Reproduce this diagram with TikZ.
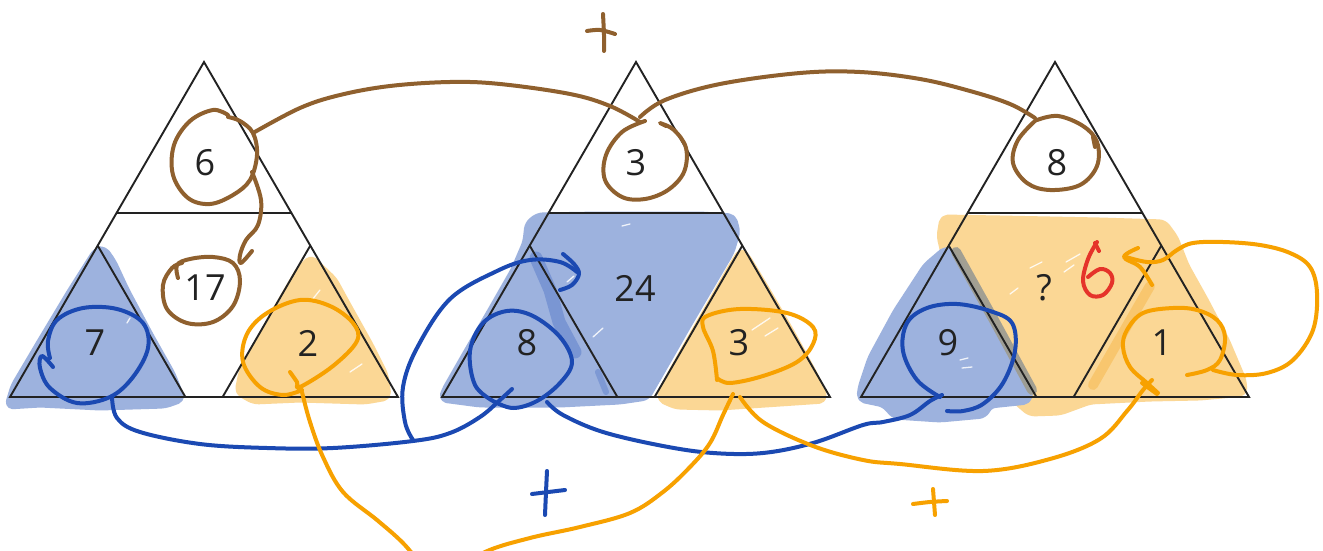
\documentclass[tikz,border=0pt]{standalone}
\usepackage{fontspec}
\setmainfont{Open Sans}
\definecolor{fblue}{HTML}{9DB2DE}
\definecolor{fdblue}{HTML}{7793D2}
\definecolor{forange}{HTML}{FBD795}
\definecolor{fdorange}{HTML}{F8C66E}
\definecolor{fgray}{HTML}{9E9C92}
\definecolor{pbrown}{HTML}{8F602E}
\definecolor{pblue}{HTML}{1B49B2}
\definecolor{porange}{HTML}{F7A100}
\definecolor{pred}{HTML}{E5332A}
\definecolor{ink}{HTML}{222222}
\begin{document}
\begin{tikzpicture}[x=1pt,y=-1pt,
  tri/.style={draw=ink,line width=1.9pt,line join=miter},
  num/.style={font=\fontsize{36}{40}\selectfont,text=ink,inner sep=0pt},
  blob/.style={fill=#1,draw=#1,line width=7pt,line join=round,rounded corners=5pt},
  pen/.style={draw=#1,line width=4pt,line cap=round,line join=round},
  scratch/.style={draw=white,line width=1.3pt,line cap=round,opacity=0.85}]
\useasboundingbox (0,0) rectangle (1323,551);
\clip (0,0) rectangle (1323,551);
\fill[white] (0,0) rectangle (1323,551);

% ---------- colour fills ----------
% triangle 1
\path[blob=fblue] (8,406) -- (40,404) -- (100,407) -- (165,405) -- (182,399) -- (172,374) -- (150,335) -- (126,290) -- (113,262) -- (104,249) -- (96,251) -- (70,292) -- (40,342) -- (14,386) -- cycle;
\path[blob=forange] (238,392) -- (254,401) -- (300,399) -- (365,401) -- (388,397) -- (385,375) -- (370,345) -- (346,302) -- (334,280) -- (311,258) -- (299,270) -- (270,320) -- (242,372) -- cycle;
% triangle 2
\path[blob=fblue] (442,399) -- (480,404) -- (560,404) -- (620,401) -- (647,397) -- (690,322) -- (731,252) -- (737,232) -- (733,217) -- (700,215) -- (600,215) -- (538,216) -- (528,224) -- (526,242) -- (514,270) -- (490,312) -- (465,355) -- (445,390) -- cycle;
\draw[fdblue,line width=13pt,line cap=round,line join=round,opacity=0.9] (536,258) -- (550,290) -- (559,322) -- (575,352);
\draw[fdblue,line width=6pt,line cap=round,opacity=0.8] (598,372) -- (606,392);
\path[blob=forange] (660,399) -- (676,406) -- (720,407) -- (780,403) -- (824,400) -- (822,390) -- (812,370) -- (790,330) -- (765,287) -- (747,257) -- (741,251) -- (733,264) -- (705,313) -- (680,357) -- (662,390) -- cycle;
% triangle 3
\path[blob=forange] (943,218) -- (1000,219) -- (1100,221) -- (1164,223) -- (1175,238) -- (1186,266) -- (1205,300) -- (1226,340) -- (1243,380) -- (1244,393) -- (1200,397) -- (1150,398) -- (1090,401) -- (1060,412) -- (1030,413) -- (1016,401) -- (1000,370) -- (960,300) -- (946,262) -- (940,236) -- cycle;
\draw[fdorange,line width=10pt,line cap=round] (1150,286) -- (1120,338) -- (1093,385);
\path[blob=fblue] (860,399) -- (884,404) -- (895,416) -- (940,419) -- (984,415) -- (990,405) -- (1028,401) -- (1030,392) -- (992,325) -- (953,254) -- (946,249) -- (926,266) -- (896,312) -- (871,358) -- (861,388) -- cycle;
\draw[fgray,line width=10pt,line cap=round,opacity=0.95] (956,252) -- (995,322) -- (1032,390);

% scratches in fills
\draw[scratch] (593,337) -- (603,328);
\draw[scratch] (622,226) -- (630,224);
\draw[scratch] (567,282) -- (574,276);
\draw[scratch] (752,330) -- (770,318);
\draw[scratch] (765,336) -- (778,328);
\draw[scratch] (1066,262) -- (1080,254);
\draw[scratch] (1030,268) -- (1042,262);
\draw[scratch] (1064,272) -- (1074,265);
\draw[scratch] (960,360) -- (968,358);
\draw[scratch] (962,368) -- (972,367);
\draw[scratch] (312,300) -- (320,290);
\draw[scratch] (350,372) -- (362,364);
\draw[scratch] (127,323) -- (130,318);
\draw[scratch] (1010,294) -- (1018,288);

% ---------- triangles ----------
\foreach \c in {204,636,1055}{
  \draw[tri] (\c,62) -- ({\c+194},397) -- ({\c-194},397) -- cycle;
  \draw[tri] ({\c-87.4},213) -- ({\c+87.4},213);
  \draw[tri] ({\c-106.3},245.6) -- ({\c-18.6},397);
  \draw[tri] ({\c+106.3},245.6) -- ({\c+18.6},397);
}

% ---------- numbers ----------
\node[num] (a1) at (205,163) {6};
\node[num] (a2) at (205,288) {17};
\node[num] (a3) at (95,343) {7};
\node[num] (a4) at (308,343) {2};
\node[num] (b1) at (636,163) {3};
\node[num] (b2) at (635,288) {24};
\node[num] (b3) at (527,343) {8};
\node[num] (b4) at (739,343) {3};
\node[num] (c1) at (1057,163) {8};
\node[num] (c2) at (1044,288) {?};
\node[num] (c3) at (948,343) {9};
\node[num] (c4) at (1162,343) {1};

% ---------- brown pen ----------
\draw[pen=pbrown] plot[smooth,tension=0.6] coordinates {(228,115) (213,110) (190,121) (174,145) (173,175) (188,198) (210,204) (233,195) (250,180) (257,155) (253,133) (240,121) (228,117)};
\draw[pen=pbrown] plot[smooth,tension=0.6] coordinates {(252,172) (261,200) (258,225) (246,240) (240,255) (241,263) (252,251)};
\draw[pen=pbrown] plot[smooth,tension=0.6] coordinates {(178,278) (177,265) (190,259) (213,257) (233,263) (240,281) (233,306) (213,322) (187,323) (167,309) (163,285) (172,268) (182,263)};
\draw[pen=pbrown] plot[smooth,tension=0.6] coordinates {(253,133) (300,108) (340,95) (390,86) (450,82) (500,84) (570,94) (610,106) (640,122)};
\draw[pen=pbrown] plot[smooth,tension=0.6] coordinates {(645,121) (622,132) (606,155) (605,180) (622,197) (645,199) (668,190) (684,172) (686,148) (674,130) (660,123) (666,126)};
\draw[pen=pbrown] plot[smooth,tension=0.6] coordinates {(640,117) (665,100) (720,84) (800,73) (860,72) (920,79) (970,91) (1010,104) (1035,118)};
\draw[pen=pbrown] plot[smooth,tension=0.6] coordinates {(1036,120) (1018,140) (1013,163) (1027,183) (1050,190) (1080,185) (1097,166) (1097,142) (1083,126) (1058,116) (1037,120)};
\draw[pen=pbrown] (1093,137) -- (1095,147);
\draw[pen=pbrown] plot[smooth,tension=0.6] coordinates {(587,31) (600,30) (615,34)};
\draw[pen=pbrown] plot[smooth,tension=0.6] coordinates {(603,14) (604,35) (604,51)};

% ---------- blue pen ----------
\draw[pen=pblue] plot[smooth,tension=0.6] coordinates {(53,367) (42,356) (40,368) (50,388) (77,403) (110,397) (133,377) (148,348) (143,323) (117,309) (83,308) (57,320) (48,341) (50,358)};
\draw[pen=pblue] plot[smooth,tension=0.6] coordinates {(112,397) (117,418) (140,432) (200,444) (267,448) (333,448) (413,441) (450,433) (480,417) (500,400) (512,389)};
\draw[pen=pblue] plot[smooth,tension=0.6] coordinates {(413,440) (405,422) (403,387) (417,348) (450,299) (497,271) (530,260) (560,262) (577,272)};
\draw[pen=pblue] plot[smooth,tension=0.6] coordinates {(563,254) (574,264) (579,274) (572,285) (560,290)};
\draw[pen=pblue] plot[smooth,tension=0.6] coordinates {(493,401) (475,385) (470,351) (483,323) (507,311) (533,316) (560,337) (572,362) (560,383) (537,401) (513,408) (493,401)};
\draw[pen=pblue] plot[smooth,tension=0.6] coordinates {(547,402) (563,415) (603,432) (663,446) (713,453) (763,453) (813,443) (863,425) (883,422) (910,415) (930,401) (942,395)};
\draw[pen=pblue] plot[smooth,tension=0.6] coordinates {(940,397) (917,380) (903,351) (907,323) (927,308) (957,304) (990,311) (1012,323) (1015,351) (1003,383) (983,404) (963,411) (947,411)};
\draw[pen=pblue] plot[smooth,tension=0.6] coordinates {(547,471) (546,492) (545,515)};
\draw[pen=pblue] (532,494) -- (565,490);

% ---------- orange pen ----------
\draw[pen=porange] plot[smooth,tension=0.6] coordinates {(290,372) (297,382) (300,387) (333,366) (357,341) (353,323) (330,306) (300,300) (267,313) (247,334) (243,362) (260,387) (283,395) (302,390)};
\draw[pen=porange] plot[smooth,tension=0.6] coordinates {(302,392) (310,422) (323,457) (343,492) (377,520) (402,542) (428,570) (450,575) (485,552) (530,538) (580,527) (630,513) (663,492) (690,467) (710,443) (723,415) (733,394)};
\draw[pen=porange] plot[smooth,tension=0.6] coordinates {(717,380) (713,351) (703,327) (707,316) (740,309) (787,313) (813,327) (813,344) (797,362) (763,376) (730,383) (717,378)};
\draw[pen=porange] plot[smooth,tension=0.6] coordinates {(740,397) (763,422) (813,446) (863,460) (900,464) (983,471) (1050,459) (1100,439) (1127,411) (1143,390) (1152,380)};
\draw[pen=porange] (1142,383) -- (1157,394);
\draw[pen=porange] plot[smooth,tension=0.6] coordinates {(1187,375) (1207,370) (1220,360) (1225,337) (1217,320) (1197,310) (1173,308) (1143,313) (1127,330) (1123,347) (1130,367) (1147,383) (1158,393)};
\draw[pen=porange] plot[smooth,tension=0.6] coordinates {(1213,370) (1237,375) (1267,373) (1293,360) (1313,330) (1317,293) (1310,267) (1290,253) (1260,245) (1223,242) (1193,243) (1177,250) (1163,260) (1147,262) (1126,257)};
\draw[pen=porange] plot[smooth,tension=0.6] coordinates {(1138,248) (1124,257) (1140,267) (1152,285)};
\draw[pen=porange] plot[smooth,tension=0.6] coordinates {(913,504) (930,502) (947,501)};
\draw[pen=porange] plot[smooth,tension=0.6] coordinates {(933,489) (934,502) (935,515)};

% ---------- red answer ----------
\draw[pen=pred] plot[smooth,tension=0.6] coordinates {(1097,242) (1088,259) (1083,281) (1090,295) (1103,295) (1112,283) (1110,273) (1100,269) (1088,277)};
\draw[pen=pred] (1095,243) -- (1099,251);
\end{tikzpicture}
\end{document}
